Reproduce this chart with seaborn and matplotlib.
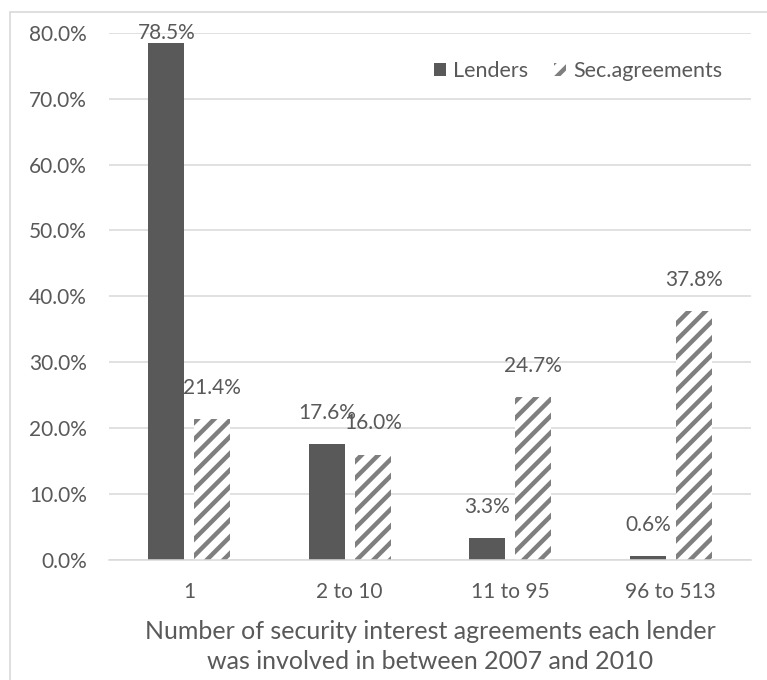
import matplotlib
matplotlib.use("Agg")
import matplotlib.pyplot as plt
import seaborn as sns
import pandas as pd
from matplotlib.patches import Patch
from matplotlib.lines import Line2D

categories = ["1", "2 to 10", "11 to 95", "96 to 513"]
series_names = ["Lenders", "Sec.agreements"]
lenders = [78.5, 17.6, 3.3, 0.6]
sec_agreements = [21.4, 16.0, 24.7, 37.8]
y_ticks = [0, 10, 20, 30, 40, 50, 60, 70, 80]
x_title = "Number of security interest agreements each lender\nwas involved in between 2007 and 2010"

TEXT = "#595959"
DARK = "#595959"
HATCH = "#7f7f7f"
GRID = "#d9d9d9"

sns.set_theme(style="white")
plt.rcParams["font.family"] = ["Lato", "DejaVu Sans"]
plt.rcParams["hatch.linewidth"] = 3.2

df = pd.DataFrame({
    "category": categories * 2,
    "series": [series_names[0]] * 4 + [series_names[1]] * 4,
    "value": lenders + sec_agreements,
})

fig = plt.figure(figsize=(7.67, 6.8), dpi=100)
ax = fig.add_axes([109 / 767, 1 - 560 / 680, (751 - 109) / 767, (560 - 32.7) / 680])

sns.barplot(data=df, x="category", y="value", hue="series", order=categories,
            hue_order=series_names, palette=[DARK, "white"], width=0.573, gap=0.22,
            legend=False, ax=ax, saturation=1)

for bar in ax.containers[0]:
    bar.set_facecolor(DARK)
    bar.set_edgecolor(DARK)
    bar.set_linewidth(0)
for bar in ax.containers[1]:
    bar.set_facecolor("white")
    bar.set_edgecolor(HATCH)
    bar.set_linewidth(0)
    bar.set_hatch("//")

ax.set_ylim(0, 80)
ax.set_xlim(-0.5, len(categories) - 0.5)
ax.set_yticks(y_ticks)
ax.set_yticklabels([f"{v:.1f}%" for v in y_ticks])
ax.yaxis.grid(True, color=GRID, linewidth=1.1)
ax.set_axisbelow(True)
for s in ["top", "right", "left"]:
    ax.spines[s].set_visible(False)
ax.spines["bottom"].set_color(GRID)
ax.spines["bottom"].set_linewidth(1.1)
ax.tick_params(axis="y", length=0, pad=16, labelsize=15, labelcolor=TEXT)
ax.tick_params(axis="x", length=0, pad=16, labelsize=15, labelcolor=TEXT)
ax.set_xlabel(x_title, fontsize=18, color=TEXT, labelpad=13, linespacing=1.38)
ax.set_ylabel("")

# data labels
for cont in ax.containers:
    for bar in cont:
        h = bar.get_height()
        xc = bar.get_x() + bar.get_width() / 2
        if h > 75:
            ax.annotate(f"{h:.1f}%", (xc, 80), ha="center", va="center",
                        fontsize=15, color=TEXT, annotation_clip=False)
        else:
            ax.annotate(f"{h:.1f}%", (xc, h), xytext=(0, 22.5), textcoords="offset points",
                        ha="center", va="center", fontsize=15, color=TEXT)

handles = [Patch(facecolor=DARK, edgecolor=DARK, linewidth=0),
           Patch(facecolor="white", edgecolor=HATCH, linewidth=0, hatch="//")]
fig.legend(handles, series_names, loc="center left", bbox_to_anchor=(434 / 767, 1 - 71 / 680),
           ncol=2, frameon=False, fontsize=15.5, labelcolor=TEXT, handlelength=0.55,
           handleheight=0.55, handletextpad=0.35, columnspacing=1.2, borderpad=0,
           borderaxespad=0)

# chart area border (left and top visible)
fig.add_artist(Line2D([9.5 / 767, 9.5 / 767], [0, 1 - 12 / 680], transform=fig.transFigure,
                      color=GRID, linewidth=1.2))
fig.add_artist(Line2D([9.5 / 767, 1], [1 - 12 / 680, 1 - 12 / 680], transform=fig.transFigure,
                      color=GRID, linewidth=1.2))

fig.savefig("out.png", dpi=100)
